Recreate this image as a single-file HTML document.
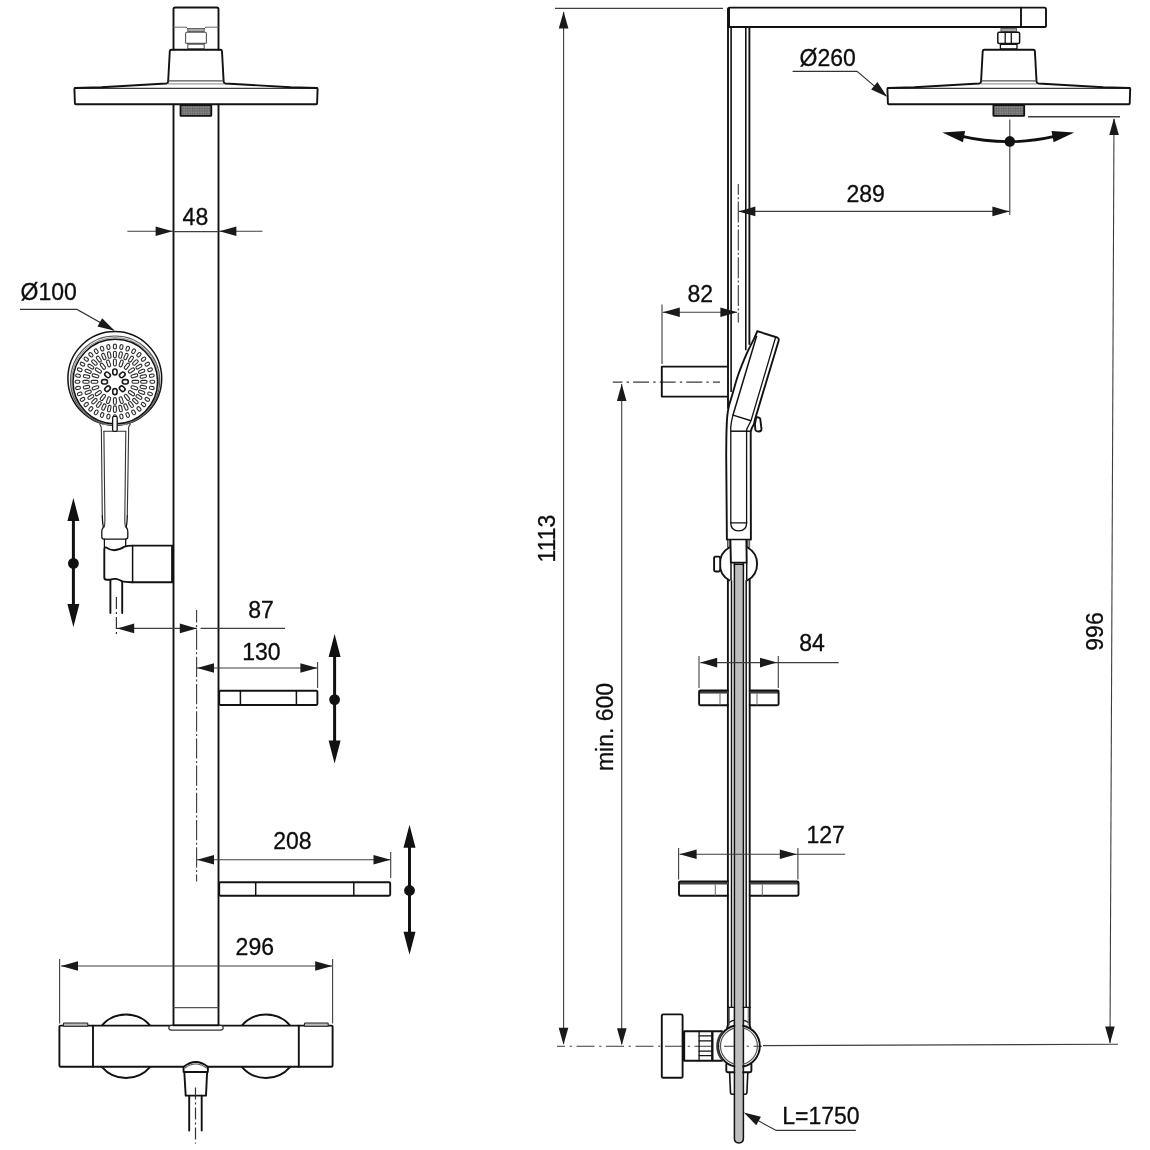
<!DOCTYPE html>
<html lang="en">
<head>
<meta charset="utf-8">
<title>Shower system - dimensional drawing</title>
<style>
html,body{margin:0;padding:0;background:#fff;}
body{width:1150px;height:1150px;overflow:hidden;}
svg{display:block;filter:grayscale(1);}
svg *{vector-effect:none;}
.o{fill:none;stroke:#121212;stroke-width:1.9;stroke-linejoin:round;stroke-linecap:round;}
.ow{fill:#fff;stroke:#121212;stroke-width:1.9;stroke-linejoin:round;stroke-linecap:round;}
.t{fill:none;stroke:#121212;stroke-width:1.3;stroke-linejoin:round;stroke-linecap:round;}
.tw{fill:#fff;stroke:#121212;stroke-width:1.3;stroke-linejoin:round;}
.t2{fill:none;stroke:#121212;stroke-width:1.5;}
.nb{fill:#a8a8a8;stroke:#555;stroke-width:0.9;}
.ng{fill:none;stroke:#555;stroke-width:1.1;}
.btn{fill:#bcbcbc;stroke:#222;stroke-width:1.1;}
.hd{fill:none;stroke:#333;stroke-width:1.1;stroke-linecap:round;}
.pt{fill:none;stroke:#3a3a3a;stroke-width:1.3;}
.m{fill:none;stroke:#121212;stroke-width:1.6;}
.th{fill:none;stroke:#666;stroke-width:1;}
.tg{fill:#fff;stroke:#666;stroke-width:1.1;}
.tgw{fill:#fff;stroke:#333;stroke-width:1.2;}
.g{fill:none;stroke:#555;stroke-width:1.2;}
.g2{fill:none;stroke:#888;stroke-width:1;}
.d{fill:none;stroke:#3e3e3e;stroke-width:1.1;}
.c{fill:none;stroke:#3e3e3e;stroke-width:1.05;stroke-dasharray:17.4 4.6 2.4 4.6;}
.cl{fill:none;stroke:#3a3a3a;stroke-width:1.1;}
.c2{fill:none;stroke:#333;stroke-width:1.2;stroke-dasharray:12 3 2 3;}
.ld{fill:none;stroke:#333;stroke-width:1.1;}
.k{fill:none;stroke:#111;stroke-width:2.6;}
.kv{fill:none;stroke:#111;stroke-width:3;}
.ka{fill:none;stroke:#111;stroke-width:2.8;}
.k2{fill:none;stroke:#111;stroke-width:2.4;}
.k3{fill:none;stroke:#3a3a3a;stroke-width:2.2;}
.kh{fill:#111;stroke:none;}
.ah{fill:#1a1a1a;stroke:none;}
.ob{fill:#fff;stroke:#1a1a1a;stroke-width:1.6;}
.ov{fill:#fff;stroke:#2e2e2e;stroke-width:1.1;}
.noz{fill:url(#knurl);stroke:#111;stroke-width:1.8;stroke-linejoin:round;}
.hose{fill:#bdbdbd;stroke:#121212;stroke-width:1.5;stroke-linejoin:round;}
.cn{fill:#9a9a9a;stroke:#333;stroke-width:0.8;}
text{font-family:"Liberation Sans",sans-serif;font-size:23px;fill:#0d0d0d;stroke:#0d0d0d;stroke-width:0.3px;}
</style>
</head>
<body>
<svg width="1150" height="1150" viewBox="0 0 1150 1150">
<defs><pattern id="knurl" width="2.4" height="2.4" patternUnits="userSpaceOnUse"><rect width="2.4" height="2.4" fill="#767676"/><rect width="1.2" height="1.2" fill="#5e5e5e"/><rect x="1.2" y="1.2" width="1.2" height="1.2" fill="#8a8a8a"/></pattern></defs>
<rect x="0" y="0" width="1150" height="1150" fill="#ffffff"/>
<path class="o" d="M173.5,49.5 V9.2 Q173.5,7.5 175.2,7.5 H216.8 Q218.5,7.5 218.5,9.2 V49.5" />
<line class="th" x1="173.50" y1="27.20" x2="186.00" y2="27.20" />
<line class="th" x1="206.00" y1="27.20" x2="218.50" y2="27.20" />
<path class="th" d="M186,27.2 Q187.4,27.6 187.8,29 M206,27.2 Q204.6,27.6 204.2,29" />
<rect class="nb" x="187.80" y="28.60" width="16.40" height="3.00" rx="0" />
<rect class="ng" x="185.60" y="32.20" width="20.80" height="11.20" rx="1.2" />
<rect class="ng" x="187.80" y="44.20" width="16.40" height="4.60" rx="0" />
<path class="pt" d="M75.20,88.3 H316.80" />
<path class="o" d="M75.20,88 Q74.40,88 74.40,88.8 L74.90,103.4 Q74.95,104.2 75.80,104.2 H316.20 Q317.05,104.2 317.10,103.4 L317.60,88.8 Q317.60,88 316.80,88" />
<path class="o" d="M75.20,88.0 L101.40,87.2 L166.30,83.5 Q168.00,83.3 168.15,81.6 L169.80,51.3 Q169.90,49.7 171.50,49.7 H220.30 Q221.90,49.7 222.00,51.3 L223.65,81.6 Q223.80,83.3 225.50,83.5 L290.60,87.2 L316.80,88.0" />
<line class="g" x1="168.50" y1="80.90" x2="223.30" y2="80.90" />
<line class="g2" x1="167.50" y1="83.90" x2="224.30" y2="83.90" />
<rect class="noz" x="180.50" y="105.00" width="30.80" height="10.80" rx="0.6" />
<line class="o" x1="173.50" y1="104.60" x2="173.50" y2="1025.40" />
<line class="o" x1="218.50" y1="104.60" x2="218.50" y2="1025.40" />
<line class="g" x1="173.50" y1="1007.60" x2="218.50" y2="1007.60" />
<line class="d" x1="127.40" y1="231.20" x2="173.50" y2="231.20" />
<line class="d" x1="173.50" y1="231.60" x2="218.50" y2="231.60" />
<line class="d" x1="218.50" y1="231.20" x2="262.40" y2="231.20" />
<polygon class="ah" points="172.60,231.20 155.60,236.00 155.60,226.40"/>
<polygon class="ah" points="219.40,231.20 236.40,226.40 236.40,236.00"/>
<text x="195.40" y="225.00" text-anchor="middle">48</text>
<text x="20.50" y="300.00" text-anchor="start">Ø100</text>
<path class="ld" d="M20,309.4 H77 L113.5,330" />
<polygon class="ah" points="114.60,330.80 97.44,326.61 102.17,318.25"/>
<circle class="t2" cx="114.80" cy="378.40" r="46.90" />
<circle class="g" cx="115.10" cy="380.60" r="44.60" />
<circle class="g2" cx="115.20" cy="381.10" r="43.50" />
<circle class="t2" cx="115.30" cy="381.60" r="42.30" />
<rect class="ob" x="111.90" y="369.85" width="6.00" height="4.30" rx="2.15" transform="rotate(-90.0 114.90 372.00)"/>
<rect class="ob" x="119.25" y="372.72" width="6.00" height="4.30" rx="2.15" transform="rotate(-43.3 122.25 374.87)"/>
<rect class="ob" x="122.29" y="379.65" width="6.00" height="4.30" rx="2.15" transform="rotate(0.0 125.29 381.80)"/>
<rect class="ob" x="119.25" y="386.58" width="6.00" height="4.30" rx="2.15" transform="rotate(43.3 122.25 388.73)"/>
<rect class="ob" x="111.90" y="389.45" width="6.00" height="4.30" rx="2.15" transform="rotate(90.0 114.90 391.60)"/>
<rect class="ob" x="104.55" y="386.58" width="6.00" height="4.30" rx="2.15" transform="rotate(136.7 107.55 388.73)"/>
<rect class="ob" x="101.51" y="379.65" width="6.00" height="4.30" rx="2.15" transform="rotate(180.0 104.51 381.80)"/>
<rect class="ob" x="104.55" y="372.72" width="6.00" height="4.30" rx="2.15" transform="rotate(-136.7 107.55 374.87)"/>
<rect class="ov" x="111.45" y="361.05" width="6.90" height="2.90" rx="1.45" transform="rotate(-90.0 114.90 362.50)"/>
<rect class="ov" x="117.77" y="361.99" width="6.90" height="2.90" rx="1.45" transform="rotate(-71.0 121.22 363.44)"/>
<rect class="ov" x="123.47" y="364.74" width="6.90" height="2.90" rx="1.45" transform="rotate(-52.4 126.92 366.19)"/>
<rect class="ov" x="128.00" y="369.01" width="6.90" height="2.90" rx="1.45" transform="rotate(-34.4 131.45 370.46)"/>
<rect class="ov" x="130.91" y="374.39" width="6.90" height="2.90" rx="1.45" transform="rotate(-17.0 134.36 375.84)"/>
<rect class="ov" x="131.91" y="380.35" width="6.90" height="2.90" rx="1.45" transform="rotate(0.0 135.36 381.80)"/>
<rect class="ov" x="130.91" y="386.31" width="6.90" height="2.90" rx="1.45" transform="rotate(17.0 134.36 387.76)"/>
<rect class="ov" x="128.00" y="391.69" width="6.90" height="2.90" rx="1.45" transform="rotate(34.4 131.45 393.14)"/>
<rect class="ov" x="123.47" y="395.96" width="6.90" height="2.90" rx="1.45" transform="rotate(52.4 126.92 397.41)"/>
<rect class="ov" x="117.77" y="398.71" width="6.90" height="2.90" rx="1.45" transform="rotate(71.0 121.22 400.16)"/>
<rect class="ov" x="111.45" y="399.65" width="6.90" height="2.90" rx="1.45" transform="rotate(90.0 114.90 401.10)"/>
<rect class="ov" x="105.13" y="398.71" width="6.90" height="2.90" rx="1.45" transform="rotate(109.0 108.58 400.16)"/>
<rect class="ov" x="99.43" y="395.96" width="6.90" height="2.90" rx="1.45" transform="rotate(127.6 102.88 397.41)"/>
<rect class="ov" x="94.90" y="391.69" width="6.90" height="2.90" rx="1.45" transform="rotate(145.6 98.35 393.14)"/>
<rect class="ov" x="91.99" y="386.31" width="6.90" height="2.90" rx="1.45" transform="rotate(163.0 95.44 387.76)"/>
<rect class="ov" x="90.99" y="380.35" width="6.90" height="2.90" rx="1.45" transform="rotate(180.0 94.44 381.80)"/>
<rect class="ov" x="91.99" y="374.39" width="6.90" height="2.90" rx="1.45" transform="rotate(-163.0 95.44 375.84)"/>
<rect class="ov" x="94.90" y="369.01" width="6.90" height="2.90" rx="1.45" transform="rotate(-145.6 98.35 370.46)"/>
<rect class="ov" x="99.43" y="364.74" width="6.90" height="2.90" rx="1.45" transform="rotate(-127.6 102.88 366.19)"/>
<rect class="ov" x="105.13" y="361.99" width="6.90" height="2.90" rx="1.45" transform="rotate(-109.0 108.58 363.44)"/>
<rect class="ov" x="111.65" y="353.05" width="6.50" height="2.90" rx="1.45" transform="rotate(-90.0 114.90 354.50)"/>
<rect class="ov" x="117.30" y="353.57" width="6.50" height="2.90" rx="1.45" transform="rotate(-78.1 120.55 355.02)"/>
<rect class="ov" x="122.72" y="355.13" width="6.50" height="2.90" rx="1.45" transform="rotate(-66.3 125.97 356.58)"/>
<rect class="ov" x="127.73" y="357.65" width="6.50" height="2.90" rx="1.45" transform="rotate(-54.7 130.98 359.10)"/>
<rect class="ov" x="132.11" y="361.05" width="6.50" height="2.90" rx="1.45" transform="rotate(-43.3 135.36 362.50)"/>
<rect class="ov" x="135.71" y="365.18" width="6.50" height="2.90" rx="1.45" transform="rotate(-32.2 138.96 366.63)"/>
<rect class="ov" x="138.39" y="369.90" width="6.50" height="2.90" rx="1.45" transform="rotate(-21.3 141.64 371.35)"/>
<rect class="ov" x="140.03" y="375.02" width="6.50" height="2.90" rx="1.45" transform="rotate(-10.6 143.28 376.47)"/>
<rect class="ov" x="140.59" y="380.35" width="6.50" height="2.90" rx="1.45" transform="rotate(0.0 143.84 381.80)"/>
<rect class="ov" x="140.03" y="385.68" width="6.50" height="2.90" rx="1.45" transform="rotate(10.6 143.28 387.13)"/>
<rect class="ov" x="138.39" y="390.80" width="6.50" height="2.90" rx="1.45" transform="rotate(21.3 141.64 392.25)"/>
<rect class="ov" x="135.71" y="395.52" width="6.50" height="2.90" rx="1.45" transform="rotate(32.2 138.96 396.97)"/>
<rect class="ov" x="132.11" y="399.65" width="6.50" height="2.90" rx="1.45" transform="rotate(43.3 135.36 401.10)"/>
<rect class="ov" x="127.73" y="403.05" width="6.50" height="2.90" rx="1.45" transform="rotate(54.7 130.98 404.50)"/>
<rect class="ov" x="122.72" y="405.57" width="6.50" height="2.90" rx="1.45" transform="rotate(66.3 125.97 407.02)"/>
<rect class="ov" x="117.30" y="407.13" width="6.50" height="2.90" rx="1.45" transform="rotate(78.1 120.55 408.58)"/>
<rect class="ov" x="111.65" y="407.65" width="6.50" height="2.90" rx="1.45" transform="rotate(90.0 114.90 409.10)"/>
<rect class="ov" x="106.00" y="407.13" width="6.50" height="2.90" rx="1.45" transform="rotate(101.9 109.25 408.58)"/>
<rect class="ov" x="100.58" y="405.57" width="6.50" height="2.90" rx="1.45" transform="rotate(113.7 103.83 407.02)"/>
<rect class="ov" x="95.57" y="403.05" width="6.50" height="2.90" rx="1.45" transform="rotate(125.3 98.82 404.50)"/>
<rect class="ov" x="91.19" y="399.65" width="6.50" height="2.90" rx="1.45" transform="rotate(136.7 94.44 401.10)"/>
<rect class="ov" x="87.59" y="395.52" width="6.50" height="2.90" rx="1.45" transform="rotate(147.8 90.84 396.97)"/>
<rect class="ov" x="84.91" y="390.80" width="6.50" height="2.90" rx="1.45" transform="rotate(158.7 88.16 392.25)"/>
<rect class="ov" x="83.27" y="385.68" width="6.50" height="2.90" rx="1.45" transform="rotate(169.4 86.52 387.13)"/>
<rect class="ov" x="82.71" y="380.35" width="6.50" height="2.90" rx="1.45" transform="rotate(180.0 85.96 381.80)"/>
<rect class="ov" x="83.27" y="375.02" width="6.50" height="2.90" rx="1.45" transform="rotate(-169.4 86.52 376.47)"/>
<rect class="ov" x="84.91" y="369.90" width="6.50" height="2.90" rx="1.45" transform="rotate(-158.7 88.16 371.35)"/>
<rect class="ov" x="87.59" y="365.18" width="6.50" height="2.90" rx="1.45" transform="rotate(-147.8 90.84 366.63)"/>
<rect class="ov" x="91.19" y="361.05" width="6.50" height="2.90" rx="1.45" transform="rotate(-136.7 94.44 362.50)"/>
<rect class="ov" x="95.57" y="357.65" width="6.50" height="2.90" rx="1.45" transform="rotate(-125.3 98.82 359.10)"/>
<rect class="ov" x="100.58" y="355.13" width="6.50" height="2.90" rx="1.45" transform="rotate(-113.7 103.83 356.58)"/>
<rect class="ov" x="106.00" y="353.57" width="6.50" height="2.90" rx="1.45" transform="rotate(-101.9 109.25 355.02)"/>
<rect class="ov" x="112.50" y="345.00" width="4.80" height="3.00" rx="1.50" transform="rotate(-90.0 114.90 346.50)"/>
<rect class="ov" x="119.00" y="345.54" width="4.80" height="3.00" rx="1.50" transform="rotate(-79.4 121.40 347.04)"/>
<rect class="ov" x="125.30" y="347.13" width="4.80" height="3.00" rx="1.50" transform="rotate(-68.9 127.70 348.63)"/>
<rect class="ov" x="131.21" y="349.73" width="4.80" height="3.00" rx="1.50" transform="rotate(-58.5 133.61 351.23)"/>
<rect class="ov" x="136.55" y="353.26" width="4.80" height="3.00" rx="1.50" transform="rotate(-48.3 138.95 354.76)"/>
<rect class="ov" x="141.16" y="357.61" width="4.80" height="3.00" rx="1.50" transform="rotate(-38.4 143.56 359.11)"/>
<rect class="ov" x="144.90" y="362.65" width="4.80" height="3.00" rx="1.50" transform="rotate(-28.6 147.30 364.15)"/>
<rect class="ov" x="147.66" y="368.23" width="4.80" height="3.00" rx="1.50" transform="rotate(-19.0 150.06 369.73)"/>
<rect class="ov" x="149.35" y="374.17" width="4.80" height="3.00" rx="1.50" transform="rotate(-9.4 151.75 375.67)"/>
<rect class="ov" x="149.92" y="380.30" width="4.80" height="3.00" rx="1.50" transform="rotate(0.0 152.32 381.80)"/>
<rect class="ov" x="149.35" y="386.43" width="4.80" height="3.00" rx="1.50" transform="rotate(9.4 151.75 387.93)"/>
<rect class="ov" x="147.66" y="392.37" width="4.80" height="3.00" rx="1.50" transform="rotate(19.0 150.06 393.87)"/>
<rect class="ov" x="144.90" y="397.95" width="4.80" height="3.00" rx="1.50" transform="rotate(28.6 147.30 399.45)"/>
<rect class="ov" x="141.16" y="402.99" width="4.80" height="3.00" rx="1.50" transform="rotate(38.4 143.56 404.49)"/>
<rect class="ov" x="136.55" y="407.34" width="4.80" height="3.00" rx="1.50" transform="rotate(48.3 138.95 408.84)"/>
<rect class="ov" x="131.21" y="410.87" width="4.80" height="3.00" rx="1.50" transform="rotate(58.5 133.61 412.37)"/>
<rect class="ov" x="125.30" y="413.47" width="4.80" height="3.00" rx="1.50" transform="rotate(68.9 127.70 414.97)"/>
<rect class="ov" x="119.00" y="415.06" width="4.80" height="3.00" rx="1.50" transform="rotate(79.4 121.40 416.56)"/>
<rect class="ov" x="112.50" y="415.60" width="4.80" height="3.00" rx="1.50" transform="rotate(90.0 114.90 417.10)"/>
<rect class="ov" x="106.00" y="415.06" width="4.80" height="3.00" rx="1.50" transform="rotate(100.6 108.40 416.56)"/>
<rect class="ov" x="99.70" y="413.47" width="4.80" height="3.00" rx="1.50" transform="rotate(111.1 102.10 414.97)"/>
<rect class="ov" x="93.79" y="410.87" width="4.80" height="3.00" rx="1.50" transform="rotate(121.5 96.19 412.37)"/>
<rect class="ov" x="88.45" y="407.34" width="4.80" height="3.00" rx="1.50" transform="rotate(131.7 90.85 408.84)"/>
<rect class="ov" x="83.84" y="402.99" width="4.80" height="3.00" rx="1.50" transform="rotate(141.6 86.24 404.49)"/>
<rect class="ov" x="80.10" y="397.95" width="4.80" height="3.00" rx="1.50" transform="rotate(151.4 82.50 399.45)"/>
<rect class="ov" x="77.34" y="392.37" width="4.80" height="3.00" rx="1.50" transform="rotate(161.0 79.74 393.87)"/>
<rect class="ov" x="75.65" y="386.43" width="4.80" height="3.00" rx="1.50" transform="rotate(170.6 78.05 387.93)"/>
<rect class="ov" x="75.08" y="380.30" width="4.80" height="3.00" rx="1.50" transform="rotate(180.0 77.48 381.80)"/>
<rect class="ov" x="75.65" y="374.17" width="4.80" height="3.00" rx="1.50" transform="rotate(-170.6 78.05 375.67)"/>
<rect class="ov" x="77.34" y="368.23" width="4.80" height="3.00" rx="1.50" transform="rotate(-161.0 79.74 369.73)"/>
<rect class="ov" x="80.10" y="362.65" width="4.80" height="3.00" rx="1.50" transform="rotate(-151.4 82.50 364.15)"/>
<rect class="ov" x="83.84" y="357.61" width="4.80" height="3.00" rx="1.50" transform="rotate(-141.6 86.24 359.11)"/>
<rect class="ov" x="88.45" y="353.26" width="4.80" height="3.00" rx="1.50" transform="rotate(-131.7 90.85 354.76)"/>
<rect class="ov" x="93.79" y="349.73" width="4.80" height="3.00" rx="1.50" transform="rotate(-121.5 96.19 351.23)"/>
<rect class="ov" x="99.70" y="347.13" width="4.80" height="3.00" rx="1.50" transform="rotate(-111.1 102.10 348.63)"/>
<rect class="ov" x="106.00" y="345.54" width="4.80" height="3.00" rx="1.50" transform="rotate(-100.6 108.40 347.04)"/>
<path class="hd" d="M99.8,424.2 Q101.1,426 101.3,428 L101.4,432 L102.3,516 M130.2,424.2 Q128.8,426 128.6,428 L128.6,432 L127.3,516" />
<path class="t" d="M102.3,516 Q102.6,524 103.4,527 Q101.8,529 101.8,532 V537 Q101.8,539.1 103.9,539.1 H125.7 Q127.8,539.1 127.8,537 V532 Q127.8,529 126.2,527 Q127,524 127.3,516" />
<path class="hd" d="M103.9,431.4 L104.9,520 Q104.9,524 104.2,527" />
<path class="hd" d="M125.8,431.4 L124.8,520 Q124.8,524 125.5,527" />
<line class="hd" x1="103.90" y1="431.30" x2="125.80" y2="431.30" />
<path class="g2" d="M102.6,424.6 H127.2" />
<rect class="tw" x="112.60" y="416.40" width="4.60" height="15.00" rx="1.6" />
<path class="t" d="M104.4,539.2 V547 M125.7,539.2 V546" />
<path class="o" d="M132.6,545.6 H172.4 V582.2 H132.6" />
<path class="o" d="M132.6,545.6 Q127.6,545.6 124.6,546.6 Q119.6,550.2 114.2,550.2 Q109.6,550.2 106.6,547.6 Q104.3,546.6 104.3,549.4 V577.4 Q104.3,579.7 106.8,579.7 H110.4 Q113.4,578.6 116,578.9 Q119,579.4 122.2,581.4 Q126,582.3 132.6,582.2" />
<line class="t2" x1="132.60" y1="545.60" x2="132.60" y2="582.20" />
<line class="k2" x1="172.50" y1="545.60" x2="172.50" y2="582.20" />
<line class="o" x1="110.40" y1="580.40" x2="110.40" y2="613.00" />
<line class="o" x1="122.20" y1="581.60" x2="122.20" y2="613.00" />
<line class="c2" x1="116.40" y1="597.00" x2="116.40" y2="637.00" />
<line class="kv" x1="73.40" y1="520.00" x2="73.40" y2="605.00" />
<polygon class="kh" points="73.40,498.00 79.40,521.00 67.40,521.00"/>
<polygon class="kh" points="73.40,627.00 67.40,604.00 79.40,604.00"/>
<circle class="kh" cx="73.40" cy="563.40" r="5.40" />
<line class="d" x1="117.00" y1="628.40" x2="197.00" y2="628.40" />
<line class="d" x1="200.60" y1="628.40" x2="285.00" y2="628.40" />
<polygon class="ah" points="117.20,628.40 134.20,623.60 134.20,633.20"/>
<polygon class="ah" points="196.80,628.40 179.80,633.20 179.80,623.60"/>
<text x="261.00" y="618.00" text-anchor="middle">87</text>
<line class="cl" x1="196.60" y1="610.00" x2="196.60" y2="881.60" stroke-dasharray="20.2 2.5 2 2.5" stroke-dashoffset="7.60"/>
<line class="d" x1="197.00" y1="668.00" x2="317.60" y2="668.00" />
<polygon class="ah" points="197.00,668.00 214.00,663.20 214.00,672.80"/>
<polygon class="ah" points="317.40,668.00 300.40,672.80 300.40,663.20"/>
<line class="d" x1="317.60" y1="662.00" x2="317.60" y2="688.00" />
<text x="261.40" y="660.00" text-anchor="middle">130</text>
<rect class="o" x="219.20" y="690.80" width="98.20" height="14.20" rx="1.2" />
<line class="t2" x1="240.40" y1="690.80" x2="240.40" y2="705.00" />
<line class="t2" x1="296.40" y1="690.80" x2="296.40" y2="705.00" />
<line class="kv" x1="334.60" y1="656.00" x2="334.60" y2="741.40" />
<polygon class="kh" points="334.60,634.00 340.60,657.00 328.60,657.00"/>
<polygon class="kh" points="334.60,763.40 328.60,740.40 340.60,740.40"/>
<circle class="kh" cx="334.60" cy="699.60" r="5.40" />
<line class="d" x1="197.00" y1="859.80" x2="390.70" y2="859.80" />
<polygon class="ah" points="197.00,859.80 214.00,855.00 214.00,864.60"/>
<polygon class="ah" points="390.50,859.80 373.50,864.60 373.50,855.00"/>
<line class="d" x1="390.70" y1="852.00" x2="390.70" y2="878.00" />
<text x="292.40" y="849.40" text-anchor="middle">208</text>
<rect class="o" x="219.20" y="882.20" width="171.00" height="13.60" rx="1.2" />
<line class="t2" x1="255.70" y1="882.20" x2="255.70" y2="895.80" />
<line class="t2" x1="353.80" y1="882.20" x2="353.80" y2="895.80" />
<line class="kv" x1="409.50" y1="846.70" x2="409.50" y2="932.70" />
<polygon class="kh" points="409.50,824.70 415.50,847.70 403.50,847.70"/>
<polygon class="kh" points="409.50,954.70 403.50,931.70 415.50,931.70"/>
<circle class="kh" cx="409.50" cy="890.50" r="5.40" />
<line class="d" x1="61.00" y1="966.00" x2="332.00" y2="966.00" />
<polygon class="ah" points="61.00,966.00 78.00,961.20 78.00,970.80"/>
<polygon class="ah" points="332.20,966.00 315.20,970.80 315.20,961.20"/>
<line class="d" x1="59.60" y1="959.00" x2="59.60" y2="1023.60" />
<line class="d" x1="332.60" y1="959.00" x2="332.60" y2="1023.60" />
<text x="254.80" y="954.80" text-anchor="middle">296</text>
<g>
<path class="o" d="M101.8,1025.6 A31.8,31.8 0 0 1 150.2,1025.6" />
<path class="o" d="M101.8,1066.8 A31.8,31.8 0 0 0 150.2,1066.8" />
<path class="o" d="M241.8,1025.6 A31.8,31.8 0 0 1 290.2,1025.6" />
<path class="o" d="M241.8,1066.8 A31.8,31.8 0 0 0 290.2,1066.8" />
</g>
<path class="ow" d="M60.6,1025.6 H331.4 Q332.6,1025.6 332.6,1026.8 V1065.4 Q332.6,1066.8 331.2,1066.8 H60.8 Q59.4,1066.8 59.4,1065.4 V1026.8 Q59.4,1025.6 60.6,1025.6 Z" />
<line class="o" x1="93.00" y1="1025.60" x2="93.00" y2="1066.80" />
<line class="o" x1="298.80" y1="1025.60" x2="298.80" y2="1066.80" />
<rect class="btn" x="63.40" y="1023.00" width="24.40" height="3.20" rx="0.8" />
<rect class="btn" x="304.40" y="1023.00" width="23.80" height="3.20" rx="0.8" />
<path class="tgw" d="M171.4,1025.4 H220.6 Q223.2,1025.4 223.2,1027.8 Q223.2,1030.2 220.6,1030.2 H171.4 Q168.8,1030.2 168.8,1027.8 Q168.8,1025.4 171.4,1025.4 Z" />
<line class="o" x1="173.50" y1="1025.40" x2="218.50" y2="1025.40" />
<path class="ow" d="M183.6,1071.9 L183.5,1067 Q195.7,1057.2 208,1067 L207.8,1071.9 Z" />
<path class="g" d="M184.6,1068.2 Q195.7,1059.8 206.9,1068.2" />
<path class="ow" d="M184.3,1072 H207.1 L206,1095.6 H185.7 Z" />
<line class="o" x1="189.20" y1="1095.60" x2="189.20" y2="1130.60" />
<line class="o" x1="201.70" y1="1095.60" x2="201.70" y2="1130.60" />
<line class="c2" x1="195.50" y1="1087.60" x2="195.50" y2="1143.50" />
<line class="d" x1="555.00" y1="8.40" x2="723.00" y2="8.40" />
<line class="d" x1="563.60" y1="12.00" x2="563.60" y2="1044.00" />
<polygon class="ah" points="563.60,11.40 568.40,28.40 558.80,28.40"/>
<polygon class="ah" points="563.50,1044.80 558.70,1027.80 568.30,1027.80"/>
<text x="555.40" y="538.50" text-anchor="middle" transform="rotate(-90 555.40 538.50)">1113</text>
<line class="d" x1="621.70" y1="384.00" x2="621.70" y2="1044.00" />
<polygon class="ah" points="621.70,384.00 626.50,401.00 616.90,401.00"/>
<polygon class="ah" points="621.80,1045.20 617.00,1028.20 626.60,1028.20"/>
<text x="613.00" y="727.00" text-anchor="middle" transform="rotate(-90 613.00 727.00)">min. 600</text>
<line class="cl" x1="612.80" y1="382.10" x2="720.00" y2="382.10" stroke-dasharray="16 4.1 2.4 4.1" stroke-dashoffset="6.30"/>
<line class="cl" x1="557.00" y1="1046.20" x2="762.00" y2="1046.20" stroke-dasharray="18 4.65 2.2 4.65" stroke-dashoffset="10.00"/>
<line class="d" x1="763.00" y1="1045.60" x2="1118.00" y2="1044.30" />
<line class="d" x1="1028.00" y1="116.70" x2="1120.00" y2="116.70" style="stroke-width:1.5"/>
<line class="d" x1="1114.00" y1="119.00" x2="1110.00" y2="1043.00" />
<polygon class="ah" points="1114.00,118.00 1118.87,134.98 1109.27,135.02"/>
<polygon class="ah" points="1110.00,1043.60 1105.13,1026.62 1114.73,1026.58"/>
<text x="1103.20" y="631.50" text-anchor="middle" transform="rotate(-90 1103.20 631.50)">996</text>
<path class="o" d="M729.6,7.6 H1044.4 Q1046,7.6 1046,9.2 V25.4 Q1046,27 1044.4,27 H728 V9.2 Q728,7.6 729.6,7.6 Z" />
<line class="k2" x1="728.80" y1="8.00" x2="728.80" y2="27.00" />
<line class="o" x1="1021.00" y1="7.60" x2="1021.00" y2="27.00" />
<line class="o" x1="728.00" y1="27.00" x2="728.00" y2="408.00" />
<line class="m" x1="731.10" y1="27.00" x2="731.10" y2="392.00" />
<line class="m" x1="745.80" y1="27.00" x2="745.80" y2="350.30" />
<line class="o" x1="749.40" y1="27.00" x2="749.40" y2="344.00" />
<line class="cl" x1="738.30" y1="184.00" x2="738.30" y2="322.50" stroke-dasharray="21 2.4 2 2.4" stroke-dashoffset="10.20"/>
<rect class="nb" x="1000.90" y="28.60" width="15.60" height="2.80" rx="0" />
<rect class="t2" x="997.80" y="32.20" width="21.80" height="11.30" rx="1.2" />
<line class="t" x1="1005.20" y1="32.20" x2="1005.20" y2="43.50" />
<line class="t" x1="1011.30" y1="32.20" x2="1011.30" y2="43.50" />
<rect class="t" x="1000.40" y="44.30" width="16.60" height="4.50" rx="0" />
<path class="pt" d="M888.20,88.3 H1129.40" />
<path class="o" d="M888.20,88 Q887.40,88 887.40,88.8 L887.90,103.4 Q887.95,104.2 888.80,104.2 H1128.80 Q1129.65,104.2 1129.70,103.4 L1130.20,88.8 Q1130.20,88 1129.40,88" />
<path class="o" d="M888.20,88.0 L914.40,87.2 L979.20,83.5 Q980.90,83.3 981.05,81.6 L982.70,51.3 Q982.80,49.7 984.40,49.7 H1033.20 Q1034.80,49.7 1034.90,51.3 L1036.55,81.6 Q1036.70,83.3 1038.40,83.5 L1103.20,87.2 L1129.40,88.0" />
<line class="g" x1="981.40" y1="80.90" x2="1036.20" y2="80.90" />
<line class="g2" x1="980.40" y1="83.90" x2="1037.20" y2="83.90" />
<rect class="noz" x="993.40" y="105.00" width="30.80" height="10.80" rx="0.6" />
<text x="799.50" y="65.60" text-anchor="start">Ø260</text>
<path class="ld" d="M792.6,71.4 H857 L886,95.8" />
<polygon class="ah" points="887.20,96.80 871.16,89.41 877.39,82.11"/>
<path class="ka" d="M961,136.2 Q1008,147.2 1055.6,136.2" />
<polygon class="kh" points="942.40,132.60 965.09,130.91 962.97,142.31"/>
<polygon class="kh" points="1074.20,132.60 1053.63,142.31 1051.51,130.91"/>
<line class="d" x1="1009.80" y1="119.60" x2="1009.80" y2="215.00" />
<circle class="kh" cx="1009.80" cy="141.40" r="5.30" />
<line class="d" x1="738.60" y1="211.40" x2="1009.40" y2="211.40" />
<polygon class="ah" points="738.40,211.40 755.40,206.60 755.40,216.20"/>
<polygon class="ah" points="1009.40,211.40 992.40,216.20 992.40,206.60"/>
<text x="865.60" y="202.40" text-anchor="middle">289</text>
<line class="d" x1="662.60" y1="312.20" x2="737.00" y2="312.20" />
<polygon class="ah" points="662.80,312.20 679.80,307.40 679.80,317.00"/>
<polygon class="ah" points="737.40,312.20 720.40,317.00 720.40,307.40"/>
<line class="d" x1="662.00" y1="304.40" x2="662.00" y2="364.00" />
<text x="700.20" y="301.60" text-anchor="middle">82</text>
<path class="o" d="M727.6,366.6 H661.8 V396.6 H727.6" />
<path class="ow" d="M757.3,331.2 L777.2,337.5 Q779.3,338.4 778.7,340.4 L755.4,418 L753.9,424.2 Q751.2,428.2 750.7,431.8 L750.9,539.6 H726.9 L726.20,455.00 C726.25,451.08 726.32,438.02 726.50,431.50 C726.68,424.98 726.87,420.25 727.30,415.90 C727.73,411.55 728.28,408.88 729.10,405.40 C729.92,401.92 730.65,400.18 732.20,395.00 C733.75,389.82 735.97,381.23 738.40,374.30 C740.83,367.37 744.37,358.97 746.80,353.40 C749.23,347.83 751.25,344.60 753.00,340.90 C754.75,337.20 756.58,332.82 757.30,331.20 Z" />
<path class="t2" d="M756.7,335.7 L733,415.1 L751,420.8" />
<path class="t" d="M733,415.1 Q731.2,421.4 730.7,427.4 L730.8,431.5 V523" />
<path class="t" d="M775.5,337.8 L751,420.8 Q748.4,425.8 746.7,429.4 L746.6,431.5 V523" />
<line class="t2" x1="730.70" y1="431.20" x2="750.60" y2="431.20" />
<path class="t" d="M730.8,523 Q730.8,530.8 738.7,530.8 Q746.6,530.8 746.6,523" />
<line class="t" x1="730.80" y1="522.80" x2="746.60" y2="522.80" />
<path class="ow" d="M754.9,424.2 L756.2,417.4 Q758.6,416.6 760.2,418.6 L761.5,428.8 Q761.6,431.4 758.8,431.5 Q756,431.6 755.4,430 Z" />
<path class="cn" d="M727.5,540 H730.3 V547.4 H727.5 Z M747,540 H749.7 V547.4 H747 Z" />
<path class="ow" d="M730.4,540.4 L730.9,562.6 H746.7 L746.4,540.4" />
<path class="o" d="M729.3,547.5 A18.9,18.9 0 0 0 729.3,580.3" />
<path class="o" d="M747.6,547.5 A18.9,18.9 0 0 1 747.6,580.3" />
<rect class="ow" x="714.10" y="556.60" width="6.10" height="14.90" rx="1.4" />
<path class="hose" d="M734.4,564.2 H743.4 V1138.6 Q743.4,1143 738.9,1143 Q734.4,1143 734.4,1138.6 Z" />
<line class="t" x1="734.40" y1="562.60" x2="734.40" y2="566.00" />
<line class="t" x1="743.40" y1="562.60" x2="743.40" y2="566.00" />
<line class="t2" x1="731.00" y1="562.60" x2="731.00" y2="580.30" />
<line class="t2" x1="746.70" y1="562.60" x2="746.70" y2="580.30" />
<line class="t2" x1="731.50" y1="580.30" x2="731.50" y2="1007.40" />
<line class="t2" x1="746.20" y1="580.30" x2="746.20" y2="1007.40" />
<line class="o" x1="727.90" y1="579.60" x2="727.90" y2="1007.40" />
<line class="o" x1="749.70" y1="579.60" x2="749.70" y2="1007.40" />
<rect x="699.1" y="690.5" width="28.80" height="3.1" fill="#444"/>
<rect x="749.7" y="690.5" width="28.90" height="3.1" fill="#444"/>
<path class="o" d="M727.9,690.5 H700.3000000000001 Q699.1,690.5 699.1,691.7 V704.0 Q699.1,705.2 700.3000000000001,705.2 H727.9" />
<path class="o" d="M749.7,690.5 H777.4 Q778.6,690.5 778.6,691.7 V704.0 Q778.6,705.2 777.4,705.2 H749.7" />
<line class="th" x1="720.00" y1="693.50" x2="720.00" y2="705.20" />
<line class="th" x1="757.00" y1="693.50" x2="757.00" y2="705.20" />
<rect x="679.0" y="881.4" width="48.90" height="3.1" fill="#444"/>
<rect x="749.7" y="881.4" width="48.80" height="3.1" fill="#444"/>
<path class="o" d="M727.9,881.4 H680.2 Q679.0,881.4 679.0,882.6 V894.5999999999999 Q679.0,895.8 680.2,895.8 H727.9" />
<path class="o" d="M749.7,881.4 H797.3 Q798.5,881.4 798.5,882.6 V894.5999999999999 Q798.5,895.8 797.3,895.8 H749.7" />
<line class="th" x1="715.30" y1="884.40" x2="715.30" y2="895.80" />
<line class="th" x1="762.30" y1="884.40" x2="762.30" y2="895.80" />
<line class="d" x1="700.40" y1="662.60" x2="838.70" y2="662.60" />
<polygon class="ah" points="700.20,662.60 717.20,657.80 717.20,667.40"/>
<polygon class="ah" points="777.00,662.60 760.00,667.40 760.00,657.80"/>
<line class="d" x1="699.00" y1="656.00" x2="699.00" y2="688.00" />
<line class="d" x1="778.30" y1="656.00" x2="778.30" y2="688.00" />
<text x="812.00" y="651.30" text-anchor="middle">84</text>
<line class="d" x1="679.50" y1="854.30" x2="845.20" y2="854.30" />
<polygon class="ah" points="679.60,854.30 696.60,849.50 696.60,859.10"/>
<polygon class="ah" points="796.80,854.30 779.80,859.10 779.80,849.50"/>
<line class="d" x1="678.60" y1="848.00" x2="678.60" y2="879.60" />
<line class="d" x1="797.90" y1="848.00" x2="797.90" y2="879.60" />
<text x="825.60" y="842.70" text-anchor="middle">127</text>
<rect class="o" x="661.80" y="1014.40" width="20.80" height="63.40" rx="1.4" />
<path class="o" d="M722,1031.2 H684.2 V1060.8 H722" />
<line class="k2" x1="683.60" y1="1031.20" x2="683.60" y2="1060.80" />
<line class="t" x1="699.10" y1="1031.20" x2="699.10" y2="1060.80" />
<line class="k2" x1="712.30" y1="1031.20" x2="712.30" y2="1060.80" />
<line class="t" x1="699.10" y1="1035.90" x2="712.30" y2="1035.90" />
<line class="t" x1="699.10" y1="1040.80" x2="712.30" y2="1040.80" />
<line class="t" x1="699.10" y1="1051.20" x2="712.30" y2="1051.20" />
<line class="t" x1="699.10" y1="1055.60" x2="712.30" y2="1055.60" />
<path class="o" d="M727.9,1007.4 V1024.6 Q727.8,1026.4 727.1,1027.8" />
<path class="th" d="M729.4,1007.6 V1025.4" />
<path class="t" d="M729.6,1022.2 Q732,1020.6 734.2,1020.4" />
<path class="o" d="M749.7,1007.4 V1024.6 Q749.8,1026.4 750.5,1027.8" />
<path class="th" d="M748.2,1007.6 V1025.4" />
<path class="t" d="M748,1022.2 Q745.6,1020.6 743.4,1020.4" />
<line class="t" x1="727.90" y1="1007.40" x2="734.40" y2="1007.40" />
<line class="t" x1="743.10" y1="1007.40" x2="749.70" y2="1007.40" />
<path class="o" d="M734.4,1025.8 A20.8,20.8 0 0 0 734.4,1066.4" />
<path class="o" d="M743.1,1025.7 A20.8,20.8 0 0 1 743.1,1066.5" />
<path class="g" d="M734.4,1028.1 A18.6,18.6 0 0 0 734.4,1064.1" />
<path class="g" d="M743.1,1028.0 A18.6,18.6 0 0 1 743.1,1064.2" />
<path class="k3" d="M722.4,1032.2 A21.4,21.4 0 0 0 722.4,1060" />
<path class="o" d="M726.3,1064 V1070.8 Q726.3,1072.2 727.7,1072.2 H734.4 M751.4,1064 V1070.8 Q751.4,1072.2 750,1072.2 H743.1" />
<path class="m" d="M729.6,1072.4 L730.5,1092.6 Q730.6,1094.2 732.2,1094.3 H734.4 M747.8,1072.4 L746.9,1092.6 Q746.8,1094.2 745.2,1094.3 H743.1" />
<text x="782.20" y="1123.70" text-anchor="start">L=1750</text>
<path class="ld" d="M855.8,1130.4 H776.2 L758,1120.6" />
<polygon class="ah" points="743.80,1112.60 760.96,1116.79 756.23,1125.15"/>
</svg>
</body>
</html>
